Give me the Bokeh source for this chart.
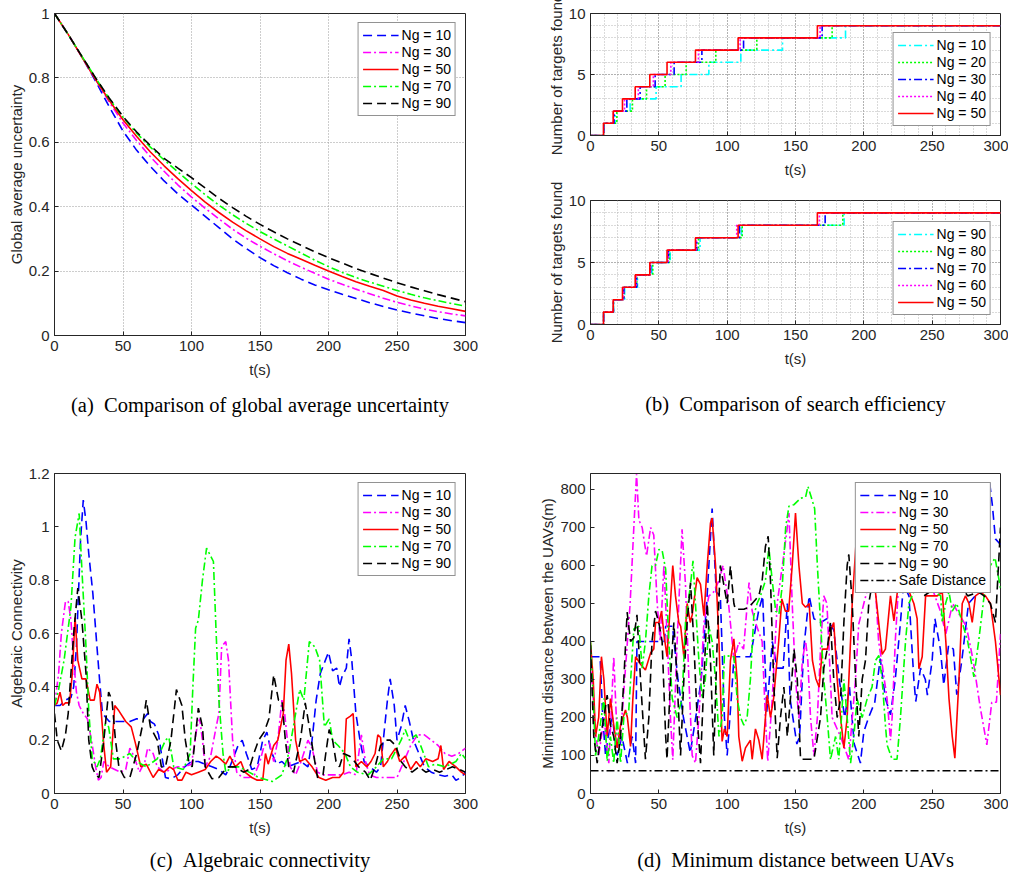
from bokeh.plotting import figure
from bokeh.models import (Range1d, Legend, LegendItem, Title, SingleIntervalTicker,
                          FixedTicker, NumeralTickFormatter)
from bokeh.layouts import row, column
from bokeh.embed import file_html
from bokeh.resources import INLINE

FONT = "Liberation Sans"
SERIF = "Liberation Serif"
AX = "#262626"

# ---------------- data ----------------
# (a) global average uncertainty, sampled every 10 s
a_t = [0, 10, 20, 30, 40, 50, 60, 70, 80, 90, 100, 110, 120, 130, 140, 150, 160, 170, 180, 190,
       200, 210, 220, 230, 240, 250, 260, 270, 280, 290, 300]
a_ng10 = [1.0, 0.935, 0.865, 0.79, 0.71, 0.635, 0.575, 0.525, 0.48, 0.44, 0.405, 0.37, 0.335, 0.3,
          0.27, 0.242, 0.217, 0.195, 0.175, 0.157, 0.142, 0.128, 0.115, 0.102, 0.09, 0.079, 0.07,
          0.061, 0.053, 0.046, 0.04]
a_ng30 = [1.0, 0.935, 0.865, 0.795, 0.725, 0.66, 0.605, 0.555, 0.51, 0.468, 0.43, 0.395, 0.362, 0.33,
          0.302, 0.277, 0.254, 0.232, 0.212, 0.193, 0.175, 0.159, 0.144, 0.13, 0.116, 0.103, 0.092,
          0.082, 0.074, 0.067, 0.061]
a_ng50 = [1.0, 0.935, 0.865, 0.795, 0.73, 0.67, 0.618, 0.57, 0.527, 0.487, 0.45, 0.414, 0.382, 0.352,
          0.325, 0.3, 0.276, 0.255, 0.237, 0.218, 0.2, 0.183, 0.167, 0.153, 0.14, 0.123, 0.11, 0.1,
          0.091, 0.083, 0.075]
a_ng70 = [1.0, 0.935, 0.867, 0.8, 0.735, 0.678, 0.628, 0.585, 0.545, 0.508, 0.472, 0.437, 0.405, 0.375,
          0.348, 0.323, 0.3, 0.278, 0.256, 0.234, 0.214, 0.196, 0.18, 0.166, 0.153, 0.14, 0.128,
          0.117, 0.108, 0.099, 0.091]
a_ng90 = [1.0, 0.935, 0.867, 0.8, 0.737, 0.68, 0.632, 0.59, 0.55, 0.52, 0.49, 0.458, 0.426, 0.397,
          0.37, 0.345, 0.322, 0.3, 0.28, 0.26, 0.242, 0.225, 0.208, 0.193, 0.178, 0.164, 0.151,
          0.139, 0.127, 0.116, 0.105]

# (b) times (s) at which the 1st..9th target is found
b_ng10 = [10, 18, 29, 48, 66.3, 86.6, 110, 140.5, 186.6]
b_ng20 = [10, 19.3, 30.7, 41, 54.6, 70, 91.7, 121.7, 176.8]
b_ng30 = [9.7, 17.3, 26.6, 36.3, 47.3, 61.2, 81.5, 112, 169.5]
b_ng40 = [9.7, 16.8, 24.9, 35, 46, 58.8, 79, 109.5, 168]
b_ng50 = [9.5, 16.6, 23.4, 32.7, 43.4, 56, 76.8, 108, 166]
b_ng90 = [9.6, 16.8, 25, 34.4, 45, 58.3, 80.2, 110.5, 185.6]
b_ng80 = [9.6, 16.8, 24.6, 33.9, 45.6, 57.8, 79, 111, 184.6]
b_ng70 = [9.6, 16.8, 24.4, 33.8, 44, 57, 77.8, 109, 171.7]
b_ng60 = [9.6, 16.7, 24.2, 33.3, 43.7, 56.7, 77.3, 107, 167.5]
b_count = [0, 1, 2, 3, 4, 5, 6, 7, 8, 9, 9]

# (c) algebraic connectivity, (t, value)
c_ng10 = [(0, 0.33), (4, 0.33), (8, 0.35), (12, 0.36), (14, 0.4), (16, 0.55), (19, 0.95), (21, 1.1),
          (23, 1.02), (25, 0.9), (28, 0.75), (31, 0.55), (33, 0.42), (35, 0.3), (40, 0.27), (45, 0.27),
          (50, 0.27), (55, 0.27), (60, 0.28), (65, 0.28), (68, 0.3), (70, 0.27), (73, 0.26), (76, 0.22),
          (78, 0.15), (81, 0.06), (85, 0.055), (90, 0.07), (95, 0.1), (100, 0.12), (105, 0.12),
          (110, 0.11), (115, 0.1), (120, 0.09), (125, 0.07), (128, 0.1), (131, 0.14), (134, 0.18),
          (137, 0.2), (140, 0.15), (144, 0.09), (148, 0.1), (152, 0.2), (155, 0.23), (158, 0.16),
          (162, 0.11), (166, 0.12), (170, 0.1), (175, 0.11), (180, 0.12), (185, 0.1), (188, 0.2),
          (191, 0.35), (194, 0.45), (197, 0.49), (200, 0.53), (203, 0.46), (206, 0.47), (208, 0.4),
          (210, 0.44), (213, 0.47), (215, 0.58), (217, 0.5), (220, 0.3), (223, 0.2), (226, 0.12),
          (230, 0.1), (235, 0.08), (238, 0.1), (241, 0.25), (243, 0.35), (245, 0.43), (248, 0.33),
          (250, 0.2), (253, 0.25), (256, 0.33), (259, 0.27), (262, 0.2), (266, 0.15), (270, 0.1),
          (275, 0.08), (280, 0.07), (285, 0.065), (290, 0.07), (293, 0.05), (297, 0.06), (300, 0.08)]
c_ng30 = [(0, 0.33), (3, 0.45), (5, 0.6), (8, 0.72), (10, 0.72), (12, 0.65), (14, 0.5), (16, 0.38),
          (18, 0.33), (21, 0.3), (24, 0.28), (27, 0.2), (30, 0.1), (32, 0.05), (34, 0.06), (36, 0.12),
          (40, 0.1), (44, 0.09), (48, 0.08), (52, 0.09), (55, 0.17), (58, 0.14), (62, 0.08), (66, 0.12),
          (68, 0.17), (72, 0.15), (75, 0.1), (80, 0.08), (85, 0.09), (90, 0.1), (95, 0.1), (100, 0.11),
          (104, 0.25), (106, 0.28), (108, 0.2), (110, 0.1), (114, 0.14), (118, 0.25), (120, 0.3),
          (122, 0.55), (125, 0.57), (127, 0.5), (130, 0.2), (133, 0.08), (137, 0.06), (142, 0.06),
          (146, 0.07), (150, 0.12), (153, 0.18), (157, 0.19), (160, 0.12), (163, 0.2), (166, 0.35),
          (168, 0.3), (172, 0.1), (176, 0.07), (180, 0.12), (185, 0.2), (188, 0.17), (192, 0.08),
          (196, 0.07), (200, 0.07), (210, 0.07), (215, 0.08), (220, 0.07), (224, 0.22), (227, 0.12),
          (230, 0.07), (235, 0.06), (240, 0.06), (245, 0.06), (250, 0.06), (255, 0.12), (260, 0.18),
          (265, 0.22), (270, 0.22), (275, 0.2), (280, 0.18), (285, 0.15), (290, 0.14), (295, 0.15),
          (300, 0.17)]
c_ng50 = [(0, 0.33), (2, 0.34), (4, 0.38), (6, 0.33), (8, 0.34), (11, 0.34), (13, 0.45), (15, 0.66),
          (17, 0.5), (20, 0.43), (23, 0.43), (26, 0.35), (29, 0.35), (31, 0.41), (33, 0.38), (36, 0.18),
          (38, 0.08), (41, 0.1), (44, 0.33), (47, 0.31), (52, 0.27), (56, 0.25), (59, 0.19), (63, 0.1),
          (67, 0.11), (72, 0.06), (76, 0.09), (80, 0.08), (84, 0.1), (87, 0.09), (90, 0.05), (93, 0.05),
          (96, 0.08), (100, 0.07), (105, 0.08), (110, 0.09), (114, 0.12), (118, 0.14), (121, 0.13),
          (125, 0.11), (128, 0.14), (130, 0.12), (132, 0.1), (136, 0.12), (139, 0.08), (144, 0.06),
          (148, 0.05), (152, 0.05), (154, 0.15), (156, 0.11), (160, 0.18), (163, 0.2), (167, 0.3),
          (169, 0.5), (171, 0.56), (173, 0.45), (176, 0.2), (179, 0.12), (183, 0.13), (188, 0.1),
          (193, 0.06), (198, 0.05), (203, 0.06), (208, 0.06), (211, 0.08), (213, 0.28), (216, 0.29),
          (218, 0.3), (220, 0.1), (224, 0.12), (228, 0.1), (231, 0.12), (234, 0.15), (236, 0.22),
          (238, 0.21), (240, 0.1), (243, 0.12), (245, 0.14), (249, 0.17), (252, 0.12), (256, 0.14),
          (260, 0.09), (264, 0.12), (267, 0.1), (271, 0.13), (276, 0.12), (280, 0.13), (282, 0.18),
          (284, 0.09), (288, 0.12), (293, 0.1), (297, 0.08), (300, 0.07)]
c_ng70 = [(0, 0.33), (3, 0.39), (7, 0.5), (12, 0.7), (15, 0.96), (18, 1.05), (20, 0.84), (23, 0.55),
          (25, 0.31), (27.5, 0.13), (31, 0.1), (33.5, 0.13), (37, 0.26), (39.5, 0.25), (43, 0.13),
          (48, 0.13), (55, 0.15), (60, 0.12), (67, 0.1), (75, 0.13), (81, 0.2), (83.5, 0.21), (87, 0.1),
          (94, 0.09), (99, 0.15), (101, 0.4), (103, 0.62), (105, 0.65), (108, 0.8), (111, 0.92),
          (114, 0.89), (116, 0.87), (118, 0.6), (120, 0.35), (123, 0.15), (125, 0.08), (130, 0.1),
          (135, 0.1), (142, 0.08), (149, 0.06), (159, 0.045), (166, 0.07), (171, 0.15), (176, 0.3),
          (179, 0.39), (182, 0.35), (186, 0.57), (190, 0.55), (193.5, 0.5), (197, 0.25), (200.5, 0.28),
          (203, 0.2), (207, 0.18), (212, 0.15), (216, 0.1), (221, 0.08), (229, 0.07), (235, 0.1),
          (240, 0.13), (246, 0.13), (253, 0.2), (256, 0.24), (259, 0.2), (264, 0.22), (268, 0.17),
          (273, 0.1), (278, 0.11), (285, 0.1), (293, 0.12), (297, 0.15), (300, 0.13)]
c_ng90 = [(0, 0.3), (2, 0.2), (5, 0.16), (8, 0.22), (10, 0.3), (12, 0.45), (14, 0.6), (17, 0.77),
          (20, 0.65), (23, 0.45), (25, 0.2), (27.5, 0.1), (30, 0.07), (32.5, 0.06), (36, 0.2),
          (39.5, 0.38), (42, 0.35), (44.5, 0.2), (47, 0.1), (51, 0.06), (55, 0.06), (60, 0.15),
          (64, 0.25), (67, 0.35), (70, 0.25), (75, 0.2), (78, 0.1), (81, 0.1), (85, 0.2), (89, 0.39),
          (93, 0.33), (95.5, 0.2), (98, 0.12), (100.5, 0.1), (105, 0.32), (108, 0.25), (110, 0.1),
          (115, 0.055), (120, 0.06), (123, 0.08), (127, 0.1), (132, 0.1), (138, 0.08), (142, 0.09),
          (145.5, 0.15), (149, 0.2), (153, 0.23), (156.5, 0.28), (160, 0.445), (163.5, 0.35),
          (166, 0.35), (168.5, 0.2), (171, 0.1), (174.5, 0.08), (179.5, 0.2), (183, 0.34), (186, 0.25),
          (189, 0.15), (192, 0.06), (196, 0.07), (198, 0.15), (200.5, 0.24), (203, 0.2), (205.5, 0.12),
          (208, 0.1), (211, 0.15), (215.5, 0.14), (219, 0.12), (222, 0.1), (227, 0.08), (230.5, 0.05),
          (234, 0.1), (238, 0.18), (242, 0.2), (245, 0.2), (249, 0.18), (253, 0.12), (256, 0.1),
          (261, 0.08), (266, 0.1), (271, 0.08), (276, 0.09), (281, 0.08), (286, 0.09), (290.5, 0.1),
          (295.5, 0.09), (300, 0.08)]

# (d) minimum distance between UAVs (m), (t, value)
d_ng10 = [(0, 360), (7, 360), (9, 200), (11, 100), (13, 150), (16, 200), (19.5, 100), (23, 150),
          (27, 80), (30.5, 150), (33, 80), (34, 400), (54, 400), (55, 440), (60, 440), (64, 300),
          (68, 200), (73, 107), (77, 200), (81, 300), (85, 500), (89, 750), (92, 530), (95, 520),
          (98, 200), (100, 100), (103, 250), (105, 360), (117, 360), (120, 420), (123, 480), (126, 520),
          (129, 215), (133, 400), (136.5, 330), (141, 330), (144, 500), (146, 250), (151, 130),
          (153, 150), (156, 380), (160, 520), (163.5, 460), (168.5, 450), (173, 460), (178, 430),
          (182, 300), (186, 200), (189.5, 280), (193, 130), (197.5, 80), (200, 163), (203.5, 200),
          (208, 240), (212, 355), (215.8, 250), (219.5, 207), (223, 300), (226.8, 450), (229, 550),
          (233, 520), (236.6, 300), (238, 242), (241.5, 330), (245, 300), (246.5, 259), (250, 350),
          (252, 460), (256, 380), (258.5, 285), (262, 390), (265.5, 380), (268, 260), (271.7, 350),
          (276.6, 500), (281.5, 520), (286.4, 580), (290, 750), (292, 820), (294, 760), (296.3, 670),
          (300, 655)]
d_ng30 = [(0, 350), (2, 250), (4, 150), (6, 100), (8, 150), (10, 200), (12, 120), (13.4, 80), (15, 200),
          (17, 360), (19.5, 150), (21, 120), (23, 200), (25, 300), (27, 400), (29, 500), (31.7, 700),
          (33.7, 840), (35.4, 720), (37.8, 700), (41, 625), (44, 700), (46.3, 680), (48.8, 500),
          (51, 400), (53.7, 600), (56, 420), (58.5, 200), (60.2, 89), (63.4, 400), (67, 695),
          (69.5, 550), (72, 300), (74.4, 100), (76.8, 80), (79.3, 200), (83, 450), (86.6, 520),
          (90, 530), (94, 560), (97, 600), (101, 500), (105, 350), (108.5, 398), (112, 380), (116, 555),
          (118.3, 480), (120.7, 450), (123.2, 424), (125.6, 400), (128, 200), (129.7, 85), (133, 250),
          (136.6, 500), (140.4, 600), (144, 700), (145.2, 738), (147.6, 500), (150, 300), (152.5, 198),
          (155, 350), (157.4, 400), (159, 350), (161, 200), (163.5, 100), (166, 200), (168.3, 380),
          (170.7, 520), (173, 500), (176.8, 200), (182.9, 150), (189, 89), (193.9, 300), (196.3, 446),
          (200, 500), (203.6, 550), (206, 600), (208.5, 540), (210.8, 400), (213, 350), (217, 250),
          (219.5, 140), (220.7, 200), (223, 400), (225.6, 560), (232, 650), (240, 600), (248, 560),
          (256, 480), (260, 420), (265, 500), (270, 470), (275, 440), (280, 350), (285, 230),
          (290, 128), (293.6, 240), (297, 240), (300, 420)]
d_ng50 = [(0, 398), (2, 300), (3.7, 150), (6, 200), (8, 360), (9.8, 300), (12.2, 150), (14.6, 250),
          (17, 180), (19.5, 120), (22, 180), (25.6, 220), (27, 200), (29.3, 124), (31, 250), (33, 360),
          (36.6, 340), (40.2, 325), (44, 370), (46.3, 380), (47.6, 450), (50, 450), (52, 480),
          (53.7, 420), (56, 360), (60.2, 600), (62.2, 520), (64.6, 450), (66, 440), (68.3, 360),
          (70.7, 500), (73, 450), (74.4, 470), (78, 568), (80.5, 550), (83, 468), (85.4, 600),
          (87.8, 712), (89, 725), (91.5, 600), (94, 400), (96.3, 137), (98, 170), (100, 150),
          (102.4, 350), (104.9, 407), (107.3, 300), (108.5, 150), (111, 85), (113.4, 120), (117, 140),
          (118.3, 90), (120.7, 170), (123.2, 140), (125.6, 90), (129.3, 259), (131.7, 200), (134, 250),
          (137.7, 400), (140, 512), (142.6, 480), (145, 480), (147.6, 600), (150, 738), (152.5, 600),
          (155, 500), (157.4, 490), (160, 500), (162.4, 350), (164.9, 302), (167.3, 280), (169.7, 380),
          (173.3, 380), (175.7, 430), (178, 450), (180.5, 300), (183, 200), (185.4, 119), (187.8, 200),
          (191.5, 500), (195, 700), (198, 600), (202, 560), (206, 540), (208.5, 530), (213.4, 366),
          (215.8, 380), (219.5, 520), (222, 454), (224.5, 530), (230, 560), (236.6, 500), (239, 460),
          (240.3, 328), (242.7, 360), (245.2, 520), (250, 520), (253.7, 520), (257.4, 530), (260, 400),
          (262.3, 250), (264.7, 150), (266.6, 93), (269.6, 300), (272, 500), (274.4, 520), (276.9, 500),
          (279.3, 450), (281.7, 520), (285.4, 530), (289, 520), (292.6, 500), (296.3, 400), (300, 259)]
d_ng70 = [(0, 400), (2, 250), (3.7, 100), (6, 150), (9.8, 250), (12.2, 85), (14.6, 150), (17, 80),
          (19.5, 200), (22, 80), (24.4, 200), (28, 220), (31.7, 433), (35.4, 440), (37.8, 330),
          (40.2, 400), (42.7, 520), (45, 599), (47.6, 600), (50, 642), (52.4, 640), (55, 590),
          (57.3, 400), (59.8, 250), (63.4, 200), (67, 250), (69.5, 450), (73.2, 550), (75, 612),
          (76.8, 500), (79.3, 350), (81.7, 250), (84, 300), (86.6, 440), (89, 400), (91.5, 300),
          (94, 150), (96.3, 200), (98, 363), (104.9, 360), (107.3, 250), (109.8, 200), (112.2, 180),
          (114.6, 200), (117, 300), (119.5, 468), (121.9, 500), (124.4, 520), (128, 560), (130.5, 647),
          (133, 560), (135.5, 480), (137.9, 472), (140.4, 550), (142.8, 700), (145.2, 756),
          (148.9, 760), (153.7, 777), (157.4, 780), (159.1, 808), (161.5, 780), (164, 750), (166, 600),
          (168.3, 450), (170.7, 300), (173.2, 200), (175.6, 89), (179.3, 150), (181.7, 90),
          (185.4, 300), (187.8, 200), (190.3, 80), (192.7, 150), (195, 250), (198.8, 200),
          (202.5, 250), (206, 280), (208.5, 350), (211, 363), (213.4, 300), (215.8, 180), (217, 128),
          (220.7, 90), (224.3, 90), (226.8, 200), (230.5, 400), (233, 500), (240, 560), (248, 540),
          (256.2, 520), (257.4, 450), (259.8, 500), (262.3, 530), (264.7, 480), (268, 500), (272, 450),
          (276, 400), (280.5, 307), (284, 400), (288, 520), (292.6, 600), (296, 620), (300, 540)]
d_ng90 = [(0, 390), (2.4, 150), (4.9, 80), (7.3, 150), (9.8, 200), (12.2, 259), (14.6, 180), (17, 150),
          (19.5, 80), (22, 150), (24.4, 300), (26.8, 477), (29.3, 400), (31.7, 410), (34, 470),
          (36.6, 300), (40.2, 90), (42.7, 200), (45, 400), (47.6, 480), (50, 450), (52.4, 400),
          (55, 150), (56, 90), (58.5, 300), (61, 450), (63.4, 300), (65.9, 100), (68.3, 300),
          (70.7, 450), (73.2, 555), (75.6, 400), (78, 200), (80.5, 80), (83, 300), (85.4, 500),
          (87.8, 350), (90.2, 100), (92.7, 400), (95, 600), (97.5, 550), (100, 500), (102.4, 599),
          (104.9, 500), (106, 485), (112.2, 485), (115.9, 490), (118.3, 500), (120.7, 510),
          (123.2, 520), (125.6, 560), (128, 650), (130, 677), (131.7, 560), (134, 300), (136.6, 93),
          (139, 200), (141.5, 280), (144, 150), (146.3, 250), (148.9, 380), (151.3, 300), (153.7, 90),
          (158.6, 90), (163.5, 90), (168.3, 200), (170.7, 330), (173.2, 380), (175.6, 450), (178, 300),
          (180.5, 200), (183, 250), (185.4, 450), (187.8, 600), (189, 629), (191.5, 500), (194, 300),
          (196.3, 150), (198.8, 300), (201.2, 350), (203.6, 500), (206, 550), (212, 560), (220, 540),
          (228, 530), (236, 560), (244, 520), (252, 540), (260, 530), (268, 560), (276, 520),
          (284, 530), (288, 520), (292.6, 500), (296.3, 450), (300, 700)]
d_safe_t = [0, 300]
d_safe_v = [60, 60]

# ---------------- styles ----------------
BLUE, MAG, RED, GREEN, BLACK, CYAN = "#0000FF", "#FF00FF", "#FF0000", "#00FF00", "#000000", "#00FFFF"
DASH, DASHDOT, DOT, SOLID = "9 5", "8 3 2 3", "2 2", "solid"
LW = 1.6
FS = "15px"


def style_axis(ax, label=None, label_standoff=7):
    ax.axis_line_color = AX
    ax.major_tick_line_color = AX
    ax.major_tick_in = 4
    ax.major_tick_out = 0
    ax.minor_tick_in = 0
    ax.minor_tick_out = 0
    ax.major_label_text_font = FONT
    ax.major_label_text_font_size = FS
    ax.major_label_text_color = AX
    ax.major_label_standoff = 5
    ax.axis_label_text_font = FONT
    ax.axis_label_text_font_size = FS
    ax.axis_label_text_font_style = "normal"
    ax.axis_label_text_color = AX
    ax.axis_label_standoff = label_standoff
    if label is not None:
        ax.axis_label = label


def make_fig(w, h, bt, bb, bl, br, yr, xticks, yticks, ylabel, fmt=None):
    p = figure(width=w, height=h, output_backend="svg", toolbar_location=None,
               x_range=Range1d(0, 300), y_range=Range1d(*yr),
               min_border_top=bt, min_border_bottom=bb, min_border_left=bl, min_border_right=br)
    p.outline_line_color = AX
    p.outline_line_width = 1
    p.outline_line_alpha = 1
    p.xaxis.ticker = xticks
    p.yaxis.ticker = yticks
    style_axis(p.xaxis[0], "t(s)", 7)
    style_axis(p.yaxis[0], ylabel, 1)
    if fmt:
        p.yaxis[0].formatter = NumeralTickFormatter(format=fmt)
    p.xgrid.grid_line_color = None
    p.ygrid.grid_line_color = None
    return p


def add_legend(p, items, loc):
    lg = Legend(items=items, location=loc)
    lg.border_line_color = AX
    lg.border_line_width = 1
    lg.background_fill_alpha = 1
    lg.label_text_font = FONT
    lg.label_text_font_size = "14px"
    lg.label_text_color = "black"
    lg.glyph_width = 36
    lg.glyph_height = 16
    lg.label_height = 16
    lg.label_standoff = 3
    lg.spacing = 1
    lg.padding = 4
    lg.margin = 9
    p.add_layout(lg)


def caption(p, text, standoff):
    t = Title(text=text, align="center", text_font=SERIF, text_font_size="20.5px",
              text_font_style="normal", text_color="black", standoff=standoff)
    p.add_layout(t, "below")


xt = FixedTicker(ticks=[0, 50, 100, 150, 200, 250, 300])

# ---------------- (a) ----------------
pa = make_fig(530, 438, 13, 103, 54, 65, (0, 1), xt,
              FixedTicker(ticks=[0, 0.2, 0.4, 0.6, 0.8, 1.0]), "Global average uncertainty", "0.[0]")
pa.xgrid.grid_line_color = "#9a9a9a"
pa.ygrid.grid_line_color = "#9a9a9a"
pa.xgrid.grid_line_dash = "1 2"
pa.ygrid.grid_line_dash = "1 2"
items = []
for lab, ys, col, dash in (("Ng = 10", a_ng10, BLUE, DASH), ("Ng = 30", a_ng30, MAG, DASHDOT),
                           ("Ng = 50", a_ng50, RED, SOLID), ("Ng = 70", a_ng70, GREEN, DASHDOT),
                           ("Ng = 90", a_ng90, BLACK, DASH)):
    r = pa.line(a_t, ys, line_color=col, line_dash=dash, line_width=LW)
    items.append(LegendItem(label=lab, renderers=[r]))
add_legend(pa, items, "top_right")
caption(pa, "(a)\u2002Comparison of global average uncertainty", 22)


# ---------------- (b) ----------------
def step_xy(times):
    return [0] + list(times) + [300], b_count


def make_b(h, bt, bb):
    p = make_fig(478, h, bt, bb, 60, 8, (0, 10), SingleIntervalTicker(interval=50, num_minor_ticks=5),
                 SingleIntervalTicker(interval=5, num_minor_ticks=5), "Number of targets found")
    for g in (p.xgrid, p.ygrid):
        g.grid_line_color = "#8a8a8a"
        g.grid_line_dash = "1 2"
        g.minor_grid_line_color = "#b5b5b5"
        g.minor_grid_line_dash = "1 2"
    return p


pb1 = make_b(180, 13, 44)
items = []
for lab, ts, col, dash in (("Ng = 10", b_ng10, CYAN, DASHDOT), ("Ng = 20", b_ng20, GREEN, DOT),
                           ("Ng = 30", b_ng30, BLUE, DASHDOT), ("Ng = 40", b_ng40, MAG, DOT),
                           ("Ng = 50", b_ng50, RED, SOLID)):
    x, y = step_xy(ts)
    r = pb1.step(x, y, mode="after", line_color=col, line_dash=dash, line_width=LW)
    items.append(LegendItem(label=lab, renderers=[r]))
add_legend(pb1, items, "bottom_right")

pb2 = make_b(258, 20, 114)
items = []
for lab, ts, col, dash in (("Ng = 90", b_ng90, CYAN, DASHDOT), ("Ng = 80", b_ng80, GREEN, DOT),
                           ("Ng = 70", b_ng70, BLUE, DASHDOT), ("Ng = 60", b_ng60, MAG, DOT),
                           ("Ng = 50", b_ng50, RED, SOLID)):
    x, y = step_xy(ts)
    r = pb2.step(x, y, mode="after", line_color=col, line_dash=dash, line_width=LW)
    items.append(LegendItem(label=lab, renderers=[r]))
add_legend(pb2, items, "bottom_right")
caption(pb2, "(b)\u2002Comparison of search efficiency", 42)

# ---------------- (c) ----------------
pc = make_fig(530, 441, 35, 85, 54, 65, (0, 1.2), xt,
              FixedTicker(ticks=[0, 0.2, 0.4, 0.6, 0.8, 1.0, 1.2]), "Algebraic Connectivity", "0.[0]")
items = []
for lab, pts, col, dash in (("Ng = 10", c_ng10, BLUE, DASH), ("Ng = 30", c_ng30, MAG, DASHDOT),
                            ("Ng = 50", c_ng50, RED, SOLID), ("Ng = 70", c_ng70, GREEN, DASHDOT),
                            ("Ng = 90", c_ng90, BLACK, DASH)):
    r = pc.line([q[0] for q in pts], [q[1] for q in pts], line_color=col, line_dash=dash, line_width=LW)
    items.append(LegendItem(label=lab, renderers=[r]))
add_legend(pc, items, "top_right")
caption(pc, "(c)\u2002Algebraic connectivity", 17)

# ---------------- (d) ----------------
pd_ = make_fig(478, 441, 34, 85, 60, 8, (0, 842), xt,
               FixedTicker(ticks=[0, 100, 200, 300, 400, 500, 600, 700, 800]),
               "Minimum distance between the UAVs(m)")
items = []
for lab, pts, col, dash in (("Ng = 10", d_ng10, BLUE, DASH), ("Ng = 30", d_ng30, MAG, DASHDOT),
                            ("Ng = 50", d_ng50, RED, SOLID), ("Ng = 70", d_ng70, GREEN, DASHDOT),
                            ("Ng = 90", d_ng90, BLACK, DASH)):
    r = pd_.line([q[0] for q in pts], [q[1] for q in pts], line_color=col, line_dash=dash, line_width=LW)
    items.append(LegendItem(label=lab, renderers=[r]))
r = pd_.line(d_safe_t, d_safe_v, line_color=BLACK, line_dash=DASHDOT, line_width=LW)
items.append(LegendItem(label="Safe Distance", renderers=[r]))
add_legend(pd_, items, "top_right")
caption(pd_, "(d)\u2002Minimum distance between UAVs", 17)

layout = column(row(pa, column(pb1, pb2)), row(pc, pd_))
open("out.html", "w").write(file_html(layout, INLINE))
